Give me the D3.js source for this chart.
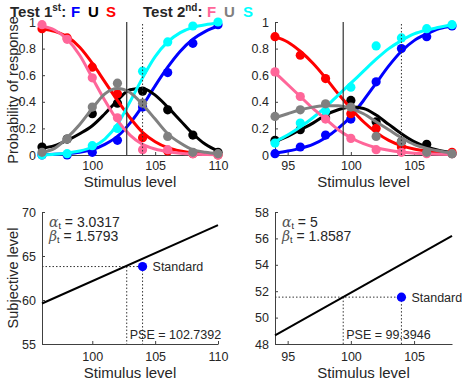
<!DOCTYPE html>
<html>
<head>
<meta charset="utf-8">
<script src="https://cdn.jsdelivr.net/npm/d3@7"></script>
<style>
	body { margin: 0; background: #fff; }
	svg text { font-family: "Liberation Sans", Arial, Helvetica, sans-serif; fill: #262626; }
	.axis path, .axis line { stroke: #404040; }
	.axis text { font-size: 12.5px; fill: #262626; }
</style>
</head>
<body>
<div id="graphic"></div>
<script>
// Stimulus levels for the two sessions
const levelsA = [96, 98, 100, 102, 104, 106, 108, 110];
const levelsB = [94, 96, 98, 100, 102, 104, 106, 108];
const curveLevelsA = [96, 97, 98, 99, 100, 101, 102, 103, 104, 105, 106, 107, 108, 109, 110];
const curveLevelsB = [94, 95, 96, 97, 98, 99, 100, 101, 102, 103, 104, 105, 106, 107, 108];

// Observed proportions, left panel (F/U/S for test 1st and test 2nd)
const dotsA = {
	F1: [0, 0, 0.02, 0.11, 0.36, 0.62, 0.84, 0.98],
	U1: [0.06, 0.12, 0.31, 0.39, 0.48, 0.34, 0.15, 0.02],
	S1: [0.95, 0.88, 0.66, 0.46, 0.13, 0.03, 0.01, 0],
	S2: [0, 0.01, 0.07, 0.2, 0.63, 0.85, 0.97, 1],
	F2: [0.98, 0.87, 0.58, 0.28, 0.04, 0.04, 0.01, 0],
	U2: [0.02, 0.12, 0.36, 0.54, 0.39, 0.14, 0.02, 0.01]
};
// Fitted curves, left panel
const curvesA = {
	F1: [0.003, 0.005, 0.01, 0.02, 0.04, 0.08, 0.14, 0.24, 0.37, 0.52, 0.66, 0.78, 0.87, 0.93, 0.97],
	U1: [0.05, 0.07, 0.11, 0.16, 0.22, 0.31, 0.41, 0.49, 0.5, 0.45, 0.36, 0.26, 0.16, 0.08, 0.03],
	S1: [0.95, 0.93, 0.89, 0.81, 0.69, 0.55, 0.41, 0.28, 0.17, 0.1, 0.055, 0.03, 0.015, 0.008, 0.004],
	S2: [0, 0.005, 0.015, 0.03, 0.06, 0.12, 0.23, 0.4, 0.58, 0.74, 0.85, 0.92, 0.96, 0.98, 0.99],
	F2: [0.97, 0.94, 0.87, 0.75, 0.58, 0.41, 0.26, 0.15, 0.08, 0.045, 0.025, 0.013, 0.007, 0.004, 0.002],
	U2: [0.02, 0.05, 0.13, 0.23, 0.35, 0.46, 0.5, 0.47, 0.38, 0.27, 0.16, 0.09, 0.04, 0.02, 0.01]
};

// Observed proportions, right panel
const dotsB = {
	F1: [0.01, 0.06, 0.15, 0.27, 0.55, 0.8, 0.89, 0.97],
	U1: [0.11, 0.19, 0.28, 0.41, 0.25, 0.1, 0.08, 0.01],
	S1: [0.89, 0.75, 0.575, 0.31, 0.2, 0.06, 0.02, 0.02],
	S2: [0.09, 0.24, 0.33, 0.51, 0.82, 0.88, 0.95, 0.98],
	F2: [0.625, 0.44, 0.27, 0.125, 0.04, 0.02, 0.01, 0.01],
	U2: [0.29, 0.34, 0.385, 0.36, 0.14, 0.1, 0.02, 0.01]
};
// Fitted curves, right panel
const curvesB = {
	F1: [0.015, 0.03, 0.05, 0.08, 0.13, 0.2, 0.29, 0.41, 0.54, 0.67, 0.78, 0.86, 0.91, 0.95, 0.97],
	U1: [0.1, 0.14, 0.19, 0.24, 0.3, 0.34, 0.36, 0.35, 0.3, 0.23, 0.16, 0.1, 0.06, 0.035, 0.02],
	S1: [0.89, 0.85, 0.78, 0.69, 0.58, 0.46, 0.35, 0.25, 0.17, 0.11, 0.07, 0.045, 0.03, 0.02, 0.012],
	S2: [0.1, 0.15, 0.21, 0.28, 0.36, 0.45, 0.54, 0.63, 0.72, 0.8, 0.86, 0.91, 0.94, 0.96, 0.98],
	F2: [0.62, 0.53, 0.44, 0.35, 0.27, 0.19, 0.13, 0.085, 0.055, 0.035, 0.022, 0.014, 0.009, 0.006, 0.004],
	U2: [0.28, 0.31, 0.34, 0.36, 0.37, 0.37, 0.35, 0.31, 0.25, 0.19, 0.13, 0.08, 0.05, 0.03, 0.015]
};

// PSE / standard / subjective-level fits
const standardLevel = 104;
const pseA = 102.7392;
const pseB = 99.3946;
const fitLevelsA = [96, 110];
const fitSubjA = [59.6, 68.5];
const standardSubjA = 63.8;
const fitLevelsB = [94, 108];
const fitSubjB = [48.65, 56.2];
const standardSubjB = 51.55;
const alphaA = "3.0317", betaA = "1.5793";
const alphaB = "5", betaB = "1.8587";

// tick labels
const xTicksA = [100, 105, 110];
const xTicksB = [95, 100, 105];
const probTicks = [0, 0.2, 0.4, 0.6, 0.8, 1];
const subjTicksA = [55, 60, 65, 70];
const subjTicksB = [48, 50, 52, 54, 56, 58];

const colours = { F1: "#0000ff", U1: "#000000", S1: "#ff0000", S2: "#00ffff", F2: "#ff6699", U2: "#808080" };
const drawOrder = ["F1", "U1", "S1", "S2", "F2", "U2"];

const svg = d3.select('#graphic').append('svg')
	.attr('width', 462)
	.attr('height', 382);

function addAxes(g, x, y, xTicks, yTicks, yFormat, xPad) {
	const yr = y.range();
	g.append('g')
		.attr('class', 'axis')
		.attr('transform', `translate(0,${yr[0]})`)
		.call(d3.axisBottom(x).tickValues(xTicks).tickSizeInner(-3).tickSizeOuter(0).tickPadding(xPad));
	g.append('g')
		.attr('class', 'axis')
		.attr('transform', `translate(${x.range()[0]},0)`)
		.call(d3.axisLeft(y).tickValues(yTicks).tickSizeInner(-3).tickSizeOuter(0).tickPadding(6).tickFormat(yFormat));
}

function drawPsychometric({ xDomain, xRange, xTicks, levels, curveLevels, dots, curves, pse }) {
	const x = d3.scaleLinear().domain(xDomain).range(xRange);
	const y = d3.scaleLinear().domain([0, 1]).range([155, 22]);
	const g = svg.append('g');

	addAxes(g, x, y, xTicks, probTicks, d3.format('~g'), 6);

	const line = d3.line()
		.x((d) => x(d[0]))
		.y((d) => y(d[1]))
		.curve(d3.curveMonotoneX);

	drawOrder.forEach((key) => {
		g.append('path')
			.datum(curveLevels.map((l, i) => [l, curves[key][i]]))
			.attr('fill', 'none')
			.attr('stroke', colours[key])
			.attr('stroke-width', 3)
			.attr('d', line);
		g.selectAll(null)
			.data(levels.map((l, i) => [l, dots[key][i]]))
			.enter()
			.append('circle')
			.attr('cx', (d) => x(d[0]))
			.attr('cy', (d) => y(d[1]))
			.attr('r', 4.6)
			.attr('fill', colours[key]);
	});

	// PSE (solid) and standard (dotted)
	g.append('line')
		.attr('x1', x(pse)).attr('x2', x(pse))
		.attr('y1', y(0)).attr('y2', y(1))
		.attr('stroke', '#333').attr('stroke-width', 1.2);
	g.append('line')
		.attr('x1', x(standardLevel)).attr('x2', x(standardLevel))
		.attr('y1', y(0)).attr('y2', y(1))
		.attr('stroke', '#333').attr('stroke-width', 1)
		.attr('stroke-dasharray', '1.5,2');

	g.append('text')
		.attr('x', (xRange[0] + xRange[1]) / 2)
		.attr('y', 187)
		.attr('text-anchor', 'middle')
		.style('font-size', '15px')
		.text('Stimulus level');
}

function drawSubjective({ xDomain, xRange, xTicks, yDomain, yTicks, fitLevels, fitSubj, standardSubj, pse, alpha, beta, pseLabel }) {
	const x = d3.scaleLinear().domain(xDomain).range(xRange);
	const y = d3.scaleLinear().domain(yDomain).range([344, 212]);
	const g = svg.append('g');

	addAxes(g, x, y, xTicks, yTicks, d3.format('d'), 8);

	const dotted = (x1, y1, x2, y2) => g.append('line')
		.attr('x1', x1).attr('y1', y1).attr('x2', x2).attr('y2', y2)
		.attr('stroke', '#333').attr('stroke-width', 1)
		.attr('stroke-dasharray', '1.5,2');

	dotted(x.range()[0], y(standardSubj), x(standardLevel), y(standardSubj));
	dotted(x(pse), y(standardSubj), x(pse), y.range()[0]);
	dotted(x(standardLevel), y(standardSubj), x(standardLevel), y.range()[0]);

	g.append('path')
		.datum(fitLevels.map((l, i) => [l, fitSubj[i]]))
		.attr('fill', 'none')
		.attr('stroke', '#000')
		.attr('stroke-width', 2)
		.attr('d', d3.line().x((d) => x(d[0])).y((d) => y(d[1])));

	g.append('circle')
		.attr('cx', x(standardLevel))
		.attr('cy', y(standardSubj))
		.attr('r', 4.6)
		.attr('fill', '#0000ff');

	g.append('text')
		.attr('x', x(standardLevel) + 10)
		.attr('y', y(standardSubj))
		.attr('dy', '0.35em')
		.style('font-size', '12.5px')
		.text('Standard');

	g.append('text')
		.attr('x', x(pse) + 3)
		.attr('y', 339)
		.style('font-size', '12.5px')
		.text(pseLabel);

	// alpha / beta parameters
	const x0 = x.range()[0] + 7;
	[['\u03B1', alpha, 227], ['\u03B2', beta, 241]].forEach(([sym, val, yy]) => {
		const t = g.append('text').attr('x', x0).attr('y', yy).style('font-size', '14px');
		t.append('tspan')
			.style('font-family', '"DejaVu Serif", serif')
			.style('font-style', 'italic')
			.style('fill', '#555')
			.text(sym);
		t.append('tspan')
			.attr('dy', 2)
			.style('font-size', '9px')
			.text('t');
		t.append('tspan')
			.attr('dy', -2)
			.text(' = ' + val);
	});

	g.append('text')
		.attr('x', (xRange[0] + xRange[1]) / 2)
		.attr('y', 378)
		.attr('text-anchor', 'middle')
		.style('font-size', '15px')
		.text('Stimulus level');
}

drawPsychometric({
	xDomain: [96, 110], xRange: [42, 218], xTicks: xTicksA,
	levels: levelsA, curveLevels: curveLevelsA, dots: dotsA, curves: curvesA, pse: pseA
});
drawPsychometric({
	xDomain: [94, 108], xRange: [275, 452], xTicks: xTicksB,
	levels: levelsB, curveLevels: curveLevelsB, dots: dotsB, curves: curvesB, pse: pseB
});
drawSubjective({
	xDomain: [96, 110], xRange: [42, 218], xTicks: xTicksA, yDomain: [55, 70], yTicks: subjTicksA,
	fitLevels: fitLevelsA, fitSubj: fitSubjA, standardSubj: standardSubjA, pse: pseA,
	alpha: alphaA, beta: betaA, pseLabel: 'PSE = ' + pseA
});
drawSubjective({
	xDomain: [94, 108], xRange: [275, 452], xTicks: xTicksB, yDomain: [48, 58], yTicks: subjTicksB,
	fitLevels: fitLevelsB, fitSubj: fitSubjB, standardSubj: standardSubjB, pse: pseB,
	alpha: alphaB, beta: betaB, pseLabel: 'PSE = ' + pseB
});

// y labels
[['Probability of response', 90], ['Subjective level', 278]].forEach(([label, cy]) => {
	svg.append('text')
		.attr('transform', `translate(18,${cy}) rotate(-90)`)
		.attr('text-anchor', 'middle')
		.style('font-size', '14.5px')
		.text(label);
});

// Title legend
function addLegend(x0, ord, keys, letterX) {
	const t = svg.append('text')
		.attr('x', x0)
		.attr('y', 17)
		.style('font-size', '15px')
		.style('font-weight', 'bold');
	t.append('tspan').text('Test ' + ord[0]);
	t.append('tspan').attr('dy', -6).style('font-size', '10px').text(ord[1]);
	t.append('tspan').attr('dy', 6).text(':');
	keys.forEach((k, i) => {
		t.append('tspan')
			.attr('x', x0 + letterX[i])
			.style('fill', colours[k])
			.text(k[0]);
	});
}
addLegend(10, ['1', 'st'], ['F1', 'U1', 'S1'], [61, 78, 96]);
addLegend(143, ['2', 'nd'], ['F2', 'U2', 'S2'], [64, 81, 100]);
</script>
</body>
</html>
